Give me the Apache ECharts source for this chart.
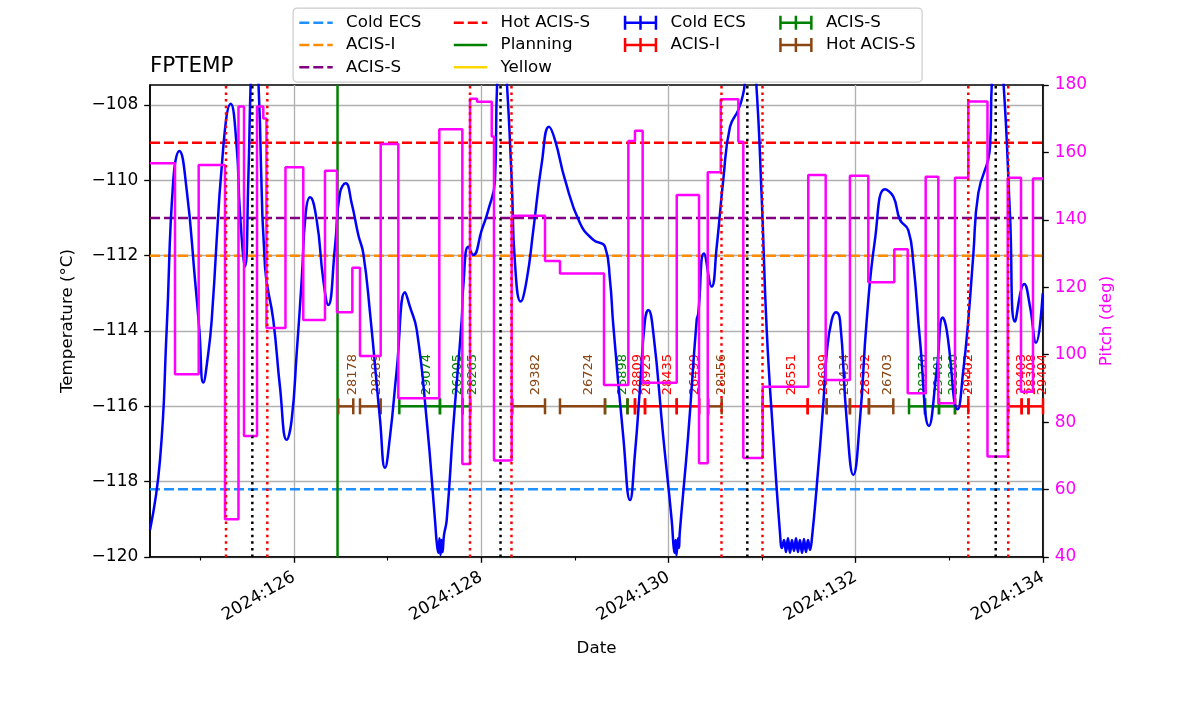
<!DOCTYPE html>
<html>
<head>
<meta charset="utf-8">
<script src="https://cdn.jsdelivr.net/npm/echarts@6/dist/echarts.min.js"></script>
<style>
html,body{margin:0;padding:0;background:#fff;}
#chart{width:1200px;height:714px;}
</style>
</head>
<body>
<div id="chart"></div>
<script>
// ---------------- data ----------------
const xMin = 124.462, xMax = 134.0;          // day of year 2024
const yMin = -120, yMax = -107.469;          // temperature axis
const pitchMin = 40, pitchMax = 180;
const obsLevel = -116;

const xMajorTicks = [126, 128, 130, 132, 134];
const xMinorTicks = [125, 127, 129, 131, 133];
const yTicks = [-120, -118, -116, -114, -112, -110, -108];

const limitColdECS = -118.2;
const limitACISI = -112;
const limitACISS = -111;
const limitHotACISS = -109;
const limitYellow = -103;     // off scale, legend only
const planningDay = 126.465;

const radZoneDays = [125.274, 125.715, 127.880, 128.323, 130.566, 131.004, 133.202, 133.629];
const perigeeDays = [125.555, 128.206, 130.842, 133.495];

// FPTEMP [day, degC]
const temperature = [
[124.462,-119.28],[124.569,-117.42],[124.640,-113.97],[124.711,-109.99],[124.775,-109.22],[124.854,-110.26],
[124.943,-112.65],[124.989,-113.97],[125.031,-115.37],[125.085,-114.58],[125.121,-113.71],[125.245,-109.11],
[125.324,-107.97],[125.388,-109.11],[125.423,-110.87],[125.477,-112.29],[125.512,-109.99],[125.538,-107.34],
[125.567,-105.74],[125.619,-107.34],[125.690,-112.29],[125.779,-113.71],[125.850,-115.48],[125.922,-116.89],
[125.975,-116.36],[126.029,-114.58],[126.082,-112.65],[126.125,-110.87],[126.171,-110.45],[126.242,-111.05],
[126.313,-112.65],[126.366,-113.31],[126.438,-111.76],[126.491,-110.34],[126.552,-110.08],[126.616,-110.61],
[126.687,-111.45],[126.740,-111.94],[126.812,-113.52],[126.919,-116.36],[126.972,-117.63],[127.025,-116.81],
[127.097,-115.04],[127.186,-112.97],[127.239,-113.36],[127.311,-113.97],[127.417,-116.36],[127.506,-119.02],
[127.527,-119.68],[127.543,-119.89],[127.554,-119.50],[127.565,-119.95],[127.575,-119.55],[127.586,-119.87],
[127.602,-119.42],[127.631,-119.02],[127.701,-116.54],[127.791,-113.71],[127.808,-112.82],[127.862,-111.76],
[127.915,-111.98],[128.005,-111.32],[128.075,-110.79],[128.147,-109.99],[128.171,-107.34],[128.222,-105.74],
[128.272,-107.34],[128.325,-109.99],[128.360,-112.19],[128.421,-113.22],[128.485,-112.65],[128.556,-111.32],
[128.646,-109.55],[128.724,-108.58],[128.788,-108.93],[128.895,-109.99],[129.055,-111.14],[129.197,-111.58],
[129.322,-111.76],[129.375,-112.65],[129.410,-113.84],[129.517,-116.81],[129.589,-118.49],[129.642,-117.25],
[129.696,-115.48],[129.749,-113.71],[129.784,-113.44],[129.838,-114.05],[129.944,-116.81],[130.034,-119.02],
[130.053,-119.68],[130.064,-119.89],[130.075,-119.55],[130.085,-119.95],[130.101,-119.50],[130.112,-119.76],
[130.120,-119.36],[130.209,-116.81],[130.301,-113.71],[130.318,-113.53],[130.379,-111.94],[130.461,-112.82],
[130.515,-111.76],[130.585,-109.99],[130.657,-108.58],[130.746,-108.13],[130.799,-107.69],[130.817,-107.34],
[130.871,-105.74],[130.935,-107.34],[130.995,-110.43],[131.049,-113.97],[131.119,-116.81],[131.191,-119.37],
[131.212,-119.76],[131.234,-119.55],[131.255,-119.87],[131.276,-119.50],[131.298,-119.89],[131.319,-119.55],
[131.340,-119.84],[131.362,-119.50],[131.383,-119.87],[131.404,-119.55],[131.426,-119.89],[131.447,-119.52],
[131.468,-119.87],[131.490,-119.55],[131.511,-119.81],[131.530,-119.55],[131.583,-118.13],[131.654,-115.92],
[131.690,-114.59],[131.743,-113.71],[131.789,-113.50],[131.832,-113.71],[131.903,-116.36],[131.974,-117.82],
[132.045,-116.36],[132.117,-113.71],[132.205,-111.58],[132.312,-110.24],[132.401,-110.43],[132.473,-111.05],
[132.561,-111.32],[132.615,-112.20],[132.686,-114.24],[132.782,-116.52],[132.865,-115.04],[132.929,-113.64],
[132.971,-113.97],[133.089,-116.08],[133.149,-115.04],[133.202,-113.71],[133.255,-112.00],[133.309,-110.34],
[133.434,-109.11],[133.455,-107.34],[133.509,-105.74],[133.576,-107.34],[133.647,-110.88],[133.701,-113.75],
[133.800,-112.75],[133.861,-113.35],[133.925,-114.31],[133.997,-113.00]
];

// Pitch [day, deg] (value held until next entry)
const pitch = [
[124.462,156.8],[124.729,94.2],[124.982,156.3],[125.263,51.2],[125.407,173.6],[125.466,75.9],
[125.605,173.6],[125.672,170.1],[125.706,107.9],[125.909,155.6],[126.099,110.3],[126.331,154.6],
[126.459,112.6],[126.623,125.8],[126.705,99.6],[126.926,162.5],[127.114,87.1],[127.552,166.9],
[127.798,67.6],[127.880,175.9],[127.955,175.0],[128.112,164.7],[128.136,68.6],[128.325,141.2],
[128.681,127.8],[128.841,124.1],[129.311,91.0],[129.571,163.4],[129.642,166.4],[129.724,91.7],
[130.088,147.4],[130.326,67.8],[130.419,154.1],[130.558,175.8],[130.746,163.2],[130.799,69.4],
[131.006,90.5],[131.493,153.3],[131.679,92.5],[131.938,153.1],[132.134,121.5],[132.412,131.3],
[132.555,88.6],[132.747,152.8],[132.882,85.6],[133.060,152.5],[133.202,175.1],[133.407,69.8],
[133.623,152.5],[133.765,89.0],[133.893,152.3],[134.0,152.3]
];

// Observations [start day, stop day, obsid]
const obsColdECS = [];
const obsACISI = [
[129.562,129.642,28809],[129.642,129.749,28923],[129.749,130.088,28435],[130.088,130.329,26499],
[131.006,131.487,26551],[131.487,131.690,28699],[131.938,132.141,28332],[133.060,133.202,29402],
[133.629,133.772,29403],[133.772,133.845,28308],[133.845,134.0,29404]
];
const obsACISS = [
[127.125,127.559,29074],[127.559,127.800,26905],[127.800,127.883,28265],[129.322,129.562,26898],
[132.569,132.740,28270],[132.740,132.889,29401],[132.889,133.060,28260]
];
const obsHotACISS = [
[126.473,126.633,28178],[126.705,126.926,28289],[128.332,128.681,29382],[128.841,129.322,26724],
[130.425,130.568,28156],[131.690,131.938,28434],[132.141,132.401,26703]
];

// ---------------- styling ----------------
const FONT = 'DejaVu Sans';
const C = {
  coldECS: '#1e90ff', acisI: '#ff8c00', acisS: '#800080', hot: '#ff0000',
  planning: '#008000', yellow: '#ffd700',
  obsCold: '#0000ff', obsI: '#ff0000', obsS: '#008000', obsHot: '#8b4513',
  temp: '#0000ff', pitch: '#ff00ff', grid: '#b0b0b0'
};
const displayName = {
  limCold: 'Cold ECS', limI: 'ACIS-I', limS: 'ACIS-S', limHot: 'Hot ACIS-S',
  planning: 'Planning', yellow: 'Yellow',
  obsCold: 'Cold ECS', obsI: 'ACIS-I', obsS: 'ACIS-S', obsHot: 'Hot ACIS-S'
};
const DASH = [10, 4];
const DOT = [2.5, 4.1];

function minusFmt(v) { return v < 0 ? '\u2212' + Math.abs(v) : String(v); }

function hline(name, value, color, dash) {
  return {
    type: 'line', name: name, data: [[xMin, value], [xMax, value]],
    symbol: 'none', silent: true, z: 2,
    lineStyle: { color: color, width: 2.5, type: dash || 'solid' },
    itemStyle: { color: color }
  };
}

function vlineSeries(days, color) {
  return {
    type: 'custom', silent: true, z: 6,
    data: days.map(d => [d, yMin]),
    encode: { x: 0, y: 1 },
    renderItem: function (params, api) {
      const cs = params.coordSys;
      const x = api.coord([api.value(0), yMin])[0];
      return {
        type: 'line',
        shape: { x1: x, y1: cs.y + cs.height, x2: x, y2: cs.y },
        style: { stroke: color, lineWidth: 2.5, lineDash: DOT }
      };
    }
  };
}

function obsSeries(name, data, color) {
  return {
    type: 'custom', name: name, silent: true, z: 3,
    itemStyle: { color: color },
    data: data,
    encode: { x: [0, 1] },
    renderItem: function (params, api) {
      const a = api.coord([api.value(0), obsLevel]);
      const b = api.coord([api.value(1), obsLevel]);
      const y = a[1], cap = 8;
      const ls = { stroke: color, lineWidth: 2.5 };
      return {
        type: 'group',
        children: [
          { type: 'line', shape: { x1: a[0], y1: y, x2: b[0], y2: y }, style: ls },
          { type: 'line', shape: { x1: a[0], y1: y - cap, x2: a[0], y2: y + cap }, style: ls },
          { type: 'line', shape: { x1: b[0], y1: y - cap, x2: b[0], y2: y + cap }, style: ls },
          { type: 'text', x: (a[0] + b[0]) / 2, y: y - 11, rotation: Math.PI / 2,
            style: { text: String(api.value(2)), fill: color, fontSize: 13, fontFamily: FONT,
                     align: 'left', verticalAlign: 'top' } }
        ]
      };
    }
  };
}

const dashIcon = 'path://M0,0M33.4,14M0,5.75H10V8.25H0ZM14,5.75H24V8.25H14ZM28,5.75H33.4V8.25H28Z';
const solidIcon = 'path://M0,0M33.4,14M0,5.75H33.4V8.25H0Z';
const ebIcon = 'path://M0,5.75H33.4V8.25H0ZM0,0H2.5V14H0ZM15.45,0H17.95V14H15.45ZM30.9,0H33.4V14H30.9Z';

function legendCol(left, items) {
  return {
    orient: 'vertical', left: left, top: 14.2, padding: 0, z: 10,
    itemWidth: 33.4, itemHeight: 14, itemGap: 5.3, selectedMode: false,
    formatter: n => displayName[n],
    itemStyle: { borderWidth: 0 },
    textStyle: { fontSize: 16.7, color: '#000', fontFamily: FONT, padding: [0, 0, 0, 8.4] },
    data: items.map(it => ({ name: it[0], icon: it[1], itemStyle: { color: it[2], borderWidth: 0 } }))
  };
}

const option = {
  animation: false,
  backgroundColor: '#fff',
  textStyle: { fontFamily: FONT },
  title: {
    text: 'FPTEMP', left: 150, top: 55, padding: 0,
    textStyle: { fontSize: 21.5, fontWeight: 'normal', color: '#000', fontFamily: FONT }
  },
  graphic: [{
    type: 'rect', left: 292.5, top: 7.5, z: 0,
    shape: { width: 629, height: 74, r: 4 },
    style: { fill: 'rgba(255,255,255,0.8)', stroke: '#cccccc', lineWidth: 1.2 }
  }],
  legend: [
    legendCol(299.3, [['limCold', dashIcon, C.coldECS], ['limI', dashIcon, C.acisI], ['limS', dashIcon, C.acisS]]),
    legendCol(453.8, [['limHot', dashIcon, C.hot], ['planning', solidIcon, C.planning], ['yellow', solidIcon, C.yellow]]),
    legendCol(623.8, [['obsCold', ebIcon, C.obsCold], ['obsI', ebIcon, C.obsI]]),
    legendCol(779.2, [['obsS', ebIcon, C.obsS], ['obsHot', ebIcon, C.obsHot]])
  ],
  grid: {
    left: 150, right: 157, top: 85, bottom: 157, containLabel: false, outerBoundsMode: 'none',
    show: true, borderColor: '#000', borderWidth: 1.5, backgroundColor: 'transparent'
  },
  xAxis: [{
    type: 'value', min: xMin, max: xMax, position: 'bottom',
    name: 'Date', nameLocation: 'middle', nameGap: 83,
    nameTextStyle: { fontSize: 16.7, color: '#000', fontFamily: FONT },
    axisLine: { show: true, onZero: false, lineStyle: { color: '#000', width: 1.5 } },
    axisTick: { show: true, customValues: xMajorTicks, length: 5.8, lineStyle: { color: '#000', width: 1.33 } },
    axisLabel: { customValues: xMajorTicks, formatter: v => '2024:' + v, rotate: 30, margin: 19,
                 fontSize: 17, color: '#000', fontFamily: FONT },
    splitLine: { show: true, lineStyle: { color: C.grid, width: 1.33 } }
  }, {
    type: 'value', min: xMin, max: xMax, position: 'bottom',
    axisLine: { show: false, onZero: false },
    axisTick: { show: true, customValues: xMinorTicks, length: 3.5, lineStyle: { color: '#000', width: 1.1 } },
    axisLabel: { show: false },
    splitLine: { show: false }
  }],
  yAxis: [{
    type: 'value', min: yMin, max: yMax, position: 'left',
    name: 'Temperature (°C)', nameLocation: 'middle', nameGap: 74, nameRotate: 90,
    nameTextStyle: { fontSize: 16.7, color: '#000', fontFamily: FONT },
    axisLine: { show: true, onZero: false, lineStyle: { color: '#000', width: 1.5 } },
    axisTick: { show: true, customValues: yTicks, length: 5.8, lineStyle: { color: '#000', width: 1.33 } },
    axisLabel: { customValues: yTicks, formatter: minusFmt, margin: 11.7, fontSize: 17, color: '#000', fontFamily: FONT },
    splitLine: { show: true, lineStyle: { color: C.grid, width: 1.33 } }
  }, {
    type: 'value', min: pitchMin, max: pitchMax, interval: 20, position: 'right',
    name: 'Pitch (deg)', nameLocation: 'middle', nameGap: 52, nameRotate: 90,
    nameTextStyle: { fontSize: 16.7, color: C.pitch, fontFamily: FONT },
    axisLine: { show: true, onZero: false, lineStyle: { color: '#000', width: 1.5 } },
    axisTick: { show: true, length: 5.8, lineStyle: { color: '#000', width: 1.33 } },
    axisLabel: { margin: 11.7, fontSize: 17, color: C.pitch, fontFamily: FONT },
    splitLine: { show: false }
  }],
  series: [
    hline('limCold', limitColdECS, C.coldECS, DASH),
    hline('limI', limitACISI, C.acisI, DASH),
    hline('limS', limitACISS, C.acisS, DASH),
    hline('limHot', limitHotACISS, C.hot, DASH),
    {
      type: 'line', name: 'planning', data: [[planningDay, yMin], [planningDay, yMax]],
      symbol: 'none', silent: true, z: 2,
      lineStyle: { color: C.planning, width: 2.5 }, itemStyle: { color: C.planning }
    },
    hline('yellow', limitYellow, C.yellow),
    obsSeries('obsCold', obsColdECS, C.obsCold),
    obsSeries('obsI', obsACISI, C.obsI),
    obsSeries('obsS', obsACISS, C.obsS),
    obsSeries('obsHot', obsHotACISS, C.obsHot),
    {
      type: 'line', name: 'temp', data: temperature, symbol: 'none', silent: true, z: 4,
      smooth: 0.5, clip: true,
      lineStyle: { color: C.temp, width: 2.5 }, itemStyle: { color: C.temp }
    },
    {
      type: 'line', name: 'pitch', yAxisIndex: 1, data: pitch, step: 'end', symbol: 'none',
      silent: true, z: 5, clip: true,
      lineStyle: { color: C.pitch, width: 2.5 }, itemStyle: { color: C.pitch }
    },
    vlineSeries(radZoneDays, '#ff0000'),
    vlineSeries(perigeeDays, '#000000')
  ]
};

const chart = echarts.init(document.getElementById('chart'), null, { renderer: 'canvas' });
chart.setOption(option);
</script>
</body>
</html>
